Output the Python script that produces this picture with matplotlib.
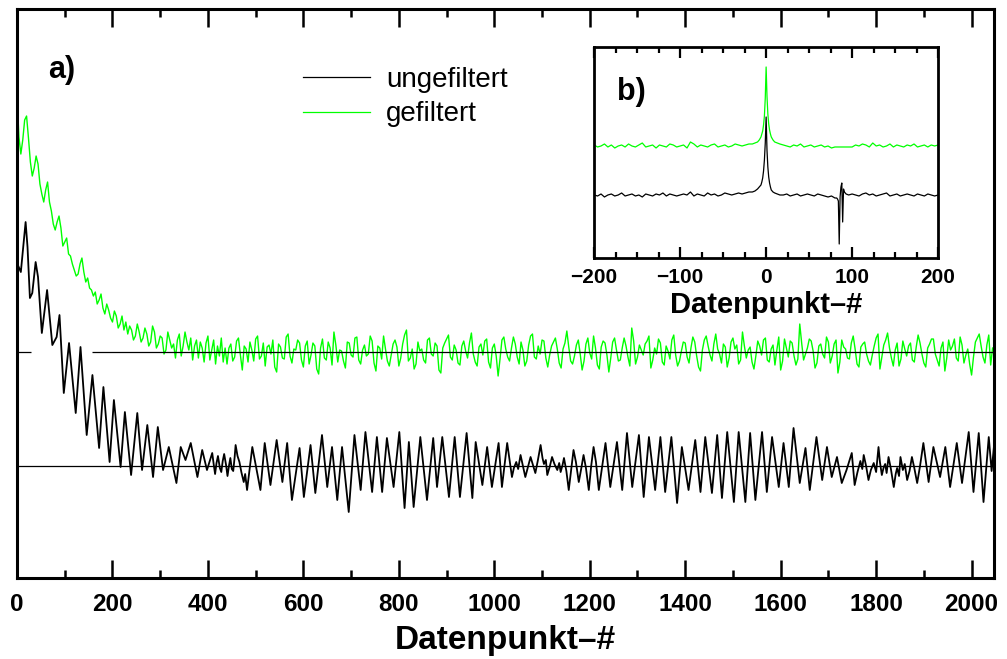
import numpy as np
import matplotlib
matplotlib.use('Agg')
import matplotlib.pyplot as plt
from matplotlib.lines import Line2D
from matplotlib.ticker import MultipleLocator

plt.rcParams['font.family'] = ['Liberation Sans', 'DejaVu Sans']

# a) ungefiltert: peaks / troughs (Datenpunkt, height)
black_x = [0, 8, 11, 18, 22, 27, 32, 39, 44, 52, 63, 74, 83, 89, 98, 109, 123, 133, 146, 158,
           172, 181, 194, 203, 217, 226, 239, 252, 262, 273, 285, 295, 306, 318, 334, 343, 353, 364, 378, 388,
           398, 409,
           412, 415, 418, 421, 425, 428, 431, 434, 438, 441, 444, 447, 450, 453, 456, 458, 462, 466, 470, 475, 478,
           482, 493, 510, 519, 531, 544, 556, 566, 576, 592, 601, 615, 625, 639, 650, 660, 671, 681, 695, 707,
           720, 730, 744, 754, 765, 775, 789, 801, 812, 821, 831, 845, 859, 872, 880, 891, 905, 917, 928, 942,
           954, 961, 975, 985, 995, 1009, 1016, 1027, 1037,
           1041, 1046, 1050, 1055, 1060, 1065, 1070, 1076, 1081, 1086, 1091, 1097, 1101, 1104, 1108, 1111, 1116, 1121,
           1126, 1132, 1136, 1139, 1143, 1146, 1151, 1156, 1161, 1166, 1171, 1177, 1182, 1187, 1192, 1198, 1203, 1208,
           1213,
           1219, 1233, 1243, 1257, 1268, 1278, 1289, 1303, 1313, 1324, 1337, 1348, 1358, 1371, 1383, 1393, 1407, 1421,
           1432, 1442, 1456, 1467, 1477, 1488, 1502, 1512, 1526, 1536, 1547, 1561, 1571, 1582, 1596, 1606, 1617, 1627,
           1640, 1652, 1661, 1675, 1687, 1697, 1707, 1718, 1728, 1738, 1749,
           1755, 1761, 1767, 1771, 1774, 1779, 1784, 1789, 1795, 1800, 1805, 1808, 1812, 1816, 1819, 1822, 1826, 1831,
           1837, 1841, 1844, 1848, 1851, 1856, 1860, 1865, 1870, 1875, 1880, 1886, 1892,
           1899, 1910, 1920, 1934, 1945, 1955, 1969, 1980, 1994, 2004, 2015, 2025, 2036, 2042, 2047]
black_y = [203, 194, 209, 244, 219, 168, 173, 204, 189, 133, 176, 121, 129, 151, 73, 123, 53, 119, 31, 91,
           18, 79, 4, 66, -1, 54, -9, 53, -4, 41, -11, 39, -4, 19, -17, 19, 6, 23, -11, 16,
           -4, 13,
           2, -8, 3, 10, -2, -6, 5, 12, 1, -10, 0, 8, -3, -5, 9, 21, 10, 4, -6, -16, -8,
           -24, 19, -24, 23, -19, 26, -16, 23, -34, 18, -31, 21, -27, 31, -21, 19, -34, 19, -46, 31,
           -24, 34, -26, 29, -26, 28, -21, 34, -42, 24, -41, 29, -34, 28, -21, 29, -31, 29, -31, 33,
           -32, 24, -19, 19, -21, 23, -21, 23, -11,
           -2, 4, -3, 11, 0, -11, -2, 9, 1, -7, 5, 21, 8, 2, 6, -9, -1, 9,
           2, -4, 3, -6, 1, 8, -5, -24, -4, 16, 4, -16, -3, 11, -2, -24, 0, 19,
           4,
           -24, 23, -21, 24, -24, 33, -21, 31, -31, 29, -24, 29, -26, 29, -37, 19, -24, 26,
           -26, 29, -27, 31, -32, 34, -36, 34, -36, 33, -34, 34, -26, 29, -21, 23, -21, 38,
           -17, 18, -24, 29, -14, 19, -11, 9, -17, -4, 13,
           -19, -6, 5, -3, 11, 0, -14, -4, 3, -6, 19, 4, -9, -1, 2, -7, 9, -3,
           -21, -8, -2, -10, 9, -4, 2, -14, -5, 9, -2, -17, 0,
           23, -16, 19, -11, 19, -21, 23, -17, 34, -26, 33, -36, 29, -5, 20]

# a) gefiltert: every 4th Datenpunkt
green_step = 4
green_y = [257, 215, 198, 212, 232, 236, 214, 190, 176, 184, 196, 188, 168, 158, 150, 162, 170, 150, 141, 128,
           122, 130, 136, 124, 106, 110, 114, 98, 96, 88, 82, 76, 78, 88, 94, 80, 70, 74, 64, 62,
           56, 60, 48, 52, 58, 44, 38, 48, 42, 34, 30, 41, 36, 24, 28, 36, 22, 30, 18, 26,
           22, 12, 16, 28, 20, 10, 14, 24, 18, 6, 10, 26, 20, 4, 8, 16, 14, -2, 2, 20,
           12, 4, 8, -6, 12, 18, -4, 6, 20, 10, 2, 14, -8, 6, 12, -6, 10, 4, -10, 9,
           16, -8, 2, 12, -12, 6, -4, 14, -10, 4,
           -12, 4, 8, -9, -5, 11, 14, -3, -18, 6, 3, -10, 10, 2, -9, 13, 16, -7, -4, 9,
           -14, 5, 7, -2, 12, -15, -20, 8, 5, -6, -7, 15, 18, -4, -11, 3, 2, 12, 9, -8,
           -15, 6, 11, -12, -3, 9, 6, -17, -22, 4, 13, -6, -8, 10, 4, -13, 20, 7, -10, 2,
           1, -9, -16, 10, 9, -3, -5, 14, 15, -8, -12, 2, 7, -4, -2, 16, 11, -11, -19, 6,
           4, -7, 16, 3, -9, -14, -3, 8, 12, 5, -14, -6, 8, 17, 22, -9, -6, 3, -17, -12,
           10, 1, 3, -8, -11, 12, 14, -2, -4, 9, 6, -18, -21, 4, 9, 13, 17, -5, -8, 7,
           2, -11, -13, 6, 11, 1, -6, 9, 19, -2, -10, -14, 5, 8, -3, 11, 13, -10, -16, 4,
           8, -4, -24, -7, 12, 15, 3, -5, -9, 4, 15, 8, -5, -12, 10, 2, -14, -9, 7, 16,
           18, -5, -7, 6, -2, 12, 11, -6, -15, -3, 6, 10, 14, 3, -11, -16, 3, 9, 21, 5,
           -9, -12, -4, 7, 12, -2, -18, -9, 8, 14, -1, -7, 16, 4, -13, -17, 5, 11, 9, -3,
           -20, -6, 10, 14, 2, -9, -8, 4, 14, 6, -5, -14, 24, 11, -12, -5, 7, 2, -3, 8,
           11, 16, -16, -8, 4, -2, 13, 9, -10, -13, 6, 1, -7, 12, 17, -3, -14, -9, 1, 10,
           9, -5, -11, 4, 15, 10, -4, -15, -19, 2, 12, 16, 6, -3, -9, 8, 18, 3, -2, -11,
           8, 5, -15, -6, 10, 14, 3, 7, -12, -8, 20, 6, -6, 2, 5, -10, -17, -4, 11, 6,
           -3, 12, 14, -8, -10, 3, 7, -13, 2, 15, -18, -9, 13, 4, -5, 11, 9, -4, -13, -7,
           28, 9, -8, -2, 4, 13, 11, 1, -16, -11, 6, 8, -2, -6, 15, 10, -11, -4, 8, 12,
           -21, -10, 12, 5, 3, -6, -7, 9, 16, 3, -12, -15, 5, 8, 10, -2, -9, -13, -3, 6,
           14, 18, -17, -5, 7, 12, 19, 4, -6, -14, 2, 9, -14, -7, 11, 3, -4, 6, 9, -8,
           -10, 5, 17, 9, -2, -11, -15, 4, 8, 13, 13, -2, -8, -14, 4, 10, -19, -6, 12, 2,
           6, 13, -6, -9, 15, 7, -11, -3, 3, -12, -23, -5, 10, 14, 18, 6, -5, -11, 7, 17,
           -13, 4]

# b) around the maximum
inset_x = np.concatenate([np.arange(-200, -19, 4),
                          [-16, -13, -10, -8, -6, -5, -4, -3, -2, -1, 0, 1, 2, 3, 4, 5, 6, 8, 10, 13, 16],
                          np.arange(20, 81, 4),
                          [82, 83, 84, 85, 86, 87, 88, 89, 90, 91, 93, 96],
                          np.arange(100, 201, 4)])
inset_green = [1, -1, 0, 2, -1, 1, -2, 0, 1, -1, 2, 0, -1, 1, 3, -1, 0, 1, -2, 1, 0, -1, 2, 1, -1,
               0, 1, -2, 4, 2, -1, 1, 0, -1, 1, 2, -1, 0, 1, -1, 0, 2, 1, 0, 1, 2,
               2, 3, 4, 6, 9, 12, 15, 21, 30, 48, 79, 50, 32, 22, 16, 12, 9, 6, 4, 3, 2,
               1, 0, -1, 1, 0, 2, -1, 0, 1, -1, 0, 1, -1, 0, -2, -1,
               -1, -1, -1, -1, -1, -1, -1, -1, -1, -1, -1, -1,
               -1, 1, 0, 2, 1, -1, 3, 0, 1, -1, 0, 2, -1, 1, 0, -1, 1, 0, 2, -1, 0, 1, -1, 1, 0, 1]
inset_black = [0, -1, 1, -2, 0, 1, -1, 0, 2, -1, 0, 1, -1, 0, -2, 1, 0, -1, 1, 0, 2, -1, 1, 0, -1,
               0, 1, 0, 3, -1, 1, 0, -1, 2, 0, 1, -1, 0, 2, 1, 0, 1, 2, 1, 2, 3,
               3, 4, 6, 8, 10, 13, 17, 24, 35, 52, 78, 45, 28, 18, 12, 8, 5, 3, 2, 1, 0,
               0, 1, -1, 0, 1, -1, 0, 1, 0, -1, 1, 0, -1, -2, -1, -3,
               -3, -4, -6, -49, -2, 8, 12, -27, 6, 3, 1, 0,
               1, 0, -1, 1, 2, 0, 1, -1, 0, 1, 2, -1, 0, 1, -1, 0, 1, 0, -1, 1, 0, -1, 1, 0, -1, 0]

# vertical offsets of the two traces
black_base, green_base = 112, 226
inset_black_base, inset_green_base = 63, 112

green_col = '#00ff00'

fig = plt.figure(figsize=(10.07, 6.59), dpi=100)
ax = fig.add_axes([0.0169, 0.1229, 0.9702, 0.8634])

green_x = np.arange(len(green_y)) * green_step
ax.plot(green_x, np.array(green_y) + green_base, color=green_col, lw=1.0, zorder=2)
ax.plot(black_x, np.array(black_y) + black_base, color='black', lw=1.3, zorder=2)
ax.axhline(black_base, color='black', lw=0.9, zorder=3)
ax.hlines(green_base, 0, 30, color='black', lw=0.9, zorder=3)
ax.hlines(green_base, 157, 2047, color='black', lw=0.9, zorder=3)

ax.set_xlim(0, 2047)
ax.set_ylim(0, 569)
ax.set_yticks([])
ax.xaxis.set_major_locator(MultipleLocator(200))
ax.xaxis.set_minor_locator(MultipleLocator(100))
ax.tick_params(axis='x', which='both', direction='in', top=True, width=1.8, labelsize=17.5, pad=11)
ax.tick_params(axis='x', which='major', length=13)
ax.tick_params(axis='x', which='minor', length=6)
for lab in ax.get_xticklabels():
    lab.set_fontweight('bold')
for s in ax.spines.values():
    s.set_linewidth(2.2)
ax.set_xlabel('Datenpunkt–#', fontsize=24, fontweight='bold', labelpad=6)

ax.text(0.032, 0.893, 'a)', transform=ax.transAxes, fontsize=22, fontweight='bold', va='center')

handles = [Line2D([], [], color='black', lw=0.9), Line2D([], [], color=green_col, lw=0.9)]
ax.legend(handles, ['ungefiltert', 'gefiltert'], loc='upper left', bbox_to_anchor=(0.293, 0.898),
          frameon=False, fontsize=20, handlelength=2.4, handletextpad=0.58, labelspacing=0.3,
          borderpad=0, borderaxespad=0)

# inset b)
ins = fig.add_axes([0.590, 0.6085, 0.3416, 0.3202])
ins.plot(inset_x, np.array(inset_green) + inset_green_base, color=green_col, lw=0.9)
ins.plot(inset_x, np.array(inset_black) + inset_black_base, color='black', lw=0.9)
ins.set_xlim(-200, 200)
ins.set_ylim(0, 211)
ins.set_yticks([])
ins.xaxis.set_major_locator(MultipleLocator(100))
ins.xaxis.set_minor_locator(MultipleLocator(25))
ins.tick_params(axis='x', which='both', direction='in', top=True, width=1.6, labelsize=15, pad=7)
ins.tick_params(axis='x', which='major', length=8)
ins.tick_params(axis='x', which='minor', length=4)
for lab in ins.get_xticklabels():
    lab.set_fontweight('bold')
for s in ins.spines.values():
    s.set_linewidth(2.0)
ins.set_xlabel('Datenpunkt–#', fontsize=21, fontweight='bold', labelpad=3)
ins.text(0.067, 0.787, 'b)', transform=ins.transAxes, fontsize=22, fontweight='bold', va='center')

fig.savefig('out.png', dpi=100)
